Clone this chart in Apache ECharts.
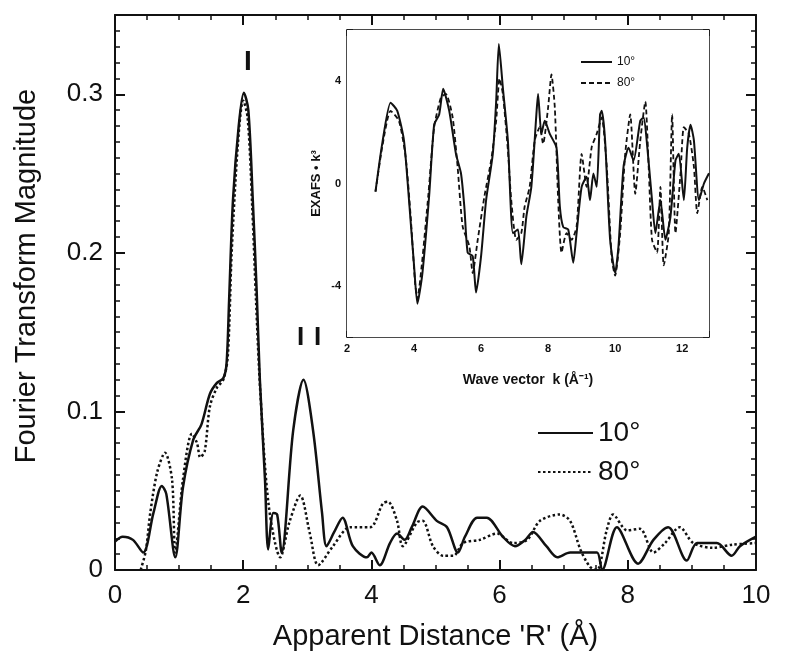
<!DOCTYPE html>
<html>
<head>
<meta charset="utf-8">
<script src="https://cdn.jsdelivr.net/npm/echarts@6/dist/echarts.min.js"></script>
<style>
  html, body { margin: 0; background: #fff; }
  #chart { width: 800px; height: 661px; }
</style>
</head>
<body>
<div id="chart"></div>
<script>
// Fourier transform magnitude vs apparent distance R (A), two polarisation angles
const ft10 = [
  [0,0.018],[0.12,0.021],[0.28,0.019],[0.44,0.011],[0.6,0.036],[0.73,0.053],[0.8,0.048],
  [0.94,0.008],[1.06,0.052],[1.22,0.082],[1.35,0.092],[1.48,0.111],[1.59,0.118],[1.69,0.121],
  [1.74,0.13],[1.78,0.17],[1.84,0.233],[1.93,0.28],[2.01,0.301],[2.08,0.29],[2.15,0.233],
  [2.21,0.176],[2.26,0.12],[2.34,0.057],[2.39,0.013],[2.47,0.036],[2.53,0.035],[2.6,0.011],
  [2.78,0.088],[2.94,0.12],[3.09,0.088],[3.23,0.036],[3.3,0.015],[3.42,0.024],[3.55,0.033],
  [3.71,0.015],[3.93,0.008],[4.0,0.011],[4.13,0.003],[4.29,0.017],[4.4,0.023],[4.52,0.019],
  [4.63,0.027],[4.8,0.04],[5.02,0.031],[5.18,0.027],[5.35,0.011],[5.46,0.021],[5.65,0.033],
  [5.8,0.033],[6.05,0.021],[6.24,0.015],[6.4,0.019],[6.52,0.024],[6.73,0.015],[6.9,0.008],
  [7.1,0.011],[7.36,0.011],[7.52,0.011],[7.6,0.0],[7.83,0.027],[8.16,0.004],[8.4,0.019],
  [8.63,0.027],[8.92,0.006],[9.08,0.017],[9.39,0.017],[9.62,0.009],[9.75,0.015],[10,0.021]
];
const ft80 = [
  [0.4,0.0],[0.48,0.012],[0.55,0.036],[0.66,0.062],[0.78,0.074],[0.89,0.057],[0.94,0.011],
  [1.06,0.057],[1.2,0.086],[1.28,0.08],[1.33,0.071],[1.4,0.075],[1.48,0.103],[1.59,0.115],
  [1.69,0.12],[1.76,0.135],[1.82,0.2],[1.92,0.27],[2.0,0.296],[2.07,0.285],[2.14,0.23],
  [2.2,0.17],[2.27,0.11],[2.4,0.04],[2.58,0.008],[2.72,0.03],[2.89,0.047],[3.04,0.023],
  [3.17,0.003],[3.4,0.015],[3.67,0.027],[3.98,0.027],[4.18,0.042],[4.26,0.043],[4.4,0.031],
  [4.49,0.015],[4.71,0.03],[4.8,0.031],[4.96,0.015],[5.12,0.009],[5.28,0.009],[5.43,0.017],
  [5.69,0.019],[5.96,0.023],[6.21,0.017],[6.43,0.019],[6.63,0.031],[6.94,0.035],[7.1,0.031],
  [7.26,0.013],[7.41,0.002],[7.52,0.0],[7.67,0.025],[7.77,0.035],[7.99,0.025],[8.19,0.026],
  [8.4,0.011],[8.58,0.017],[8.81,0.027],[9.02,0.017],[9.33,0.014],[9.64,0.016],[10,0.017]
];

// Inset: EXAFS * k^3 vs wave vector k
const exafs10 = [
  [2.85,-0.32],[3.05,1.55],[3.3,3.16],[3.5,2.84],[3.7,1.68],[3.85,-0.65],[4.0,-3.2],[4.1,-4.7],
  [4.25,-3.5],[4.45,-0.5],[4.6,2.3],[4.75,2.7],[4.87,3.7],[5.05,2.84],[5.25,1.16],[5.4,0.4],
  [5.5,-0.9],[5.6,-2.7],[5.75,-2.84],[5.85,-4.26],[6.0,-2.84],[6.15,-0.65],[6.35,1.16],[6.45,3.2],
  [6.53,5.45],[6.65,3.74],[6.8,1.68],[6.95,-1.94],[7.1,-1.8],[7.2,-3.16],[7.35,-1.3],[7.5,-0.13],
  [7.65,2.7],[7.7,3.5],[7.8,1.94],[7.9,2.45],[8.05,1.94],[8.25,1.4],[8.35,-0.9],[8.45,-1.7],
  [8.6,-1.8],[8.75,-3.1],[8.85,-1.94],[9.0,-0.13],[9.15,0.26],[9.25,-0.65],[9.35,0.39],[9.45,-0.13],
  [9.55,2.7],[9.6,2.84],[9.7,1.68],[9.85,-2.2],[10.0,-3.5],[10.1,-2.45],[10.25,0.65],[10.4,1.4],
  [10.55,0.9],[10.75,2.45],[10.85,2.58],[10.95,1.55],[11.1,-0.65],[11.2,-1.94],[11.35,-0.65],
  [11.5,-2.2],[11.65,-1.3],[11.8,0.9],[11.9,1.16],[12.05,-0.65],[12.15,1.4],[12.25,2.3],
  [12.35,1.68],[12.5,-0.65],[12.65,0],[12.8,0.4]
];
const exafs80 = [
  [2.85,-0.32],[3.05,1.42],[3.3,2.84],[3.55,2.45],[3.75,1.03],[3.9,-1.3],[4.03,-3.87],[4.1,-4.5],
  [4.23,-3.2],[4.43,-0.4],[4.6,2.2],[4.8,3.35],[4.95,3.5],[5.15,2.6],[5.3,0.65],[5.45,-1.68],
  [5.65,-2.45],[5.75,-3.5],[5.9,-2.2],[6.1,-0.5],[6.3,0.9],[6.45,2.45],[6.55,4.1],[6.65,3.5],
  [6.8,1.3],[6.9,-0.65],[7.05,-2.2],[7.2,-1.94],[7.3,-0.9],[7.45,-0.13],[7.6,1.68],[7.75,2.2],
  [7.85,1.55],[8.0,2.97],[8.1,4.26],[8.2,2.97],[8.3,-0.65],[8.4,-2.7],[8.55,-1.94],[8.7,-2.2],
  [8.85,-1.68],[9.0,1.16],[9.15,-0.13],[9.3,1.42],[9.45,1.94],[9.6,2.58],[9.75,0.65],[9.9,-2.97],
  [10.0,-3.6],[10.15,-1.94],[10.3,1.16],[10.45,2.7],[10.6,-0.4],[10.75,1.68],[10.9,3.2],[11.0,0.65],
  [11.1,-2.2],[11.25,-2.7],[11.35,-0.13],[11.45,-3.2],[11.6,-1.94],[11.7,2.7],[11.8,-1.94],
  [11.95,0.39],[12.05,2.2],[12.2,1.94],[12.35,0.65],[12.45,-1.16],[12.6,-0.13],[12.75,-0.65]
];

const FONT = '"Liberation Sans", Arial, Helvetica, sans-serif';
const BLACK = '#111';

const chart = echarts.init(document.getElementById('chart'), null, { renderer: 'canvas' });

// one boxed axis: visible labels on the main side, bare ticks on the mirror side
function axis(grid, o) {
  const mirror = !!o.mirror;
  return {
    type: 'value',
    gridIndex: grid,
    position: o.position,
    min: o.min, max: o.max, interval: o.interval,
    name: mirror ? '' : o.name,
    nameLocation: 'middle',
    nameGap: o.nameGap,
    nameTextStyle: Object.assign({ color: BLACK, fontFamily: FONT }, o.nameStyle || {}),
    axisLine: { show: true, onZero: false, lineStyle: { color: BLACK, width: o.lw } },
    axisTick: { show: true, inside: true, length: o.tick, lineStyle: { color: BLACK, width: o.lw } },
    minorTick: { show: true, splitNumber: o.minor, length: o.tick / 2, lineStyle: { color: BLACK, width: o.lw * 0.75 } },
    splitLine: { show: false },
    axisLabel: {
      show: !mirror,
      color: BLACK,
      fontFamily: FONT,
      fontSize: o.fontSize,
      fontWeight: o.fontWeight || 'normal',
      margin: o.margin,
      formatter: o.formatter
    }
  };
}

const onStep = (step, lim) => v => (Math.abs(v / step - Math.round(v / step)) < 1e-6 && Math.abs(v) <= lim ? String(+v.toFixed(2)) : '');

const mainX = { min: 0, max: 10, interval: 2, lw: 2, tick: 10, minor: 4, fontSize: 26, margin: 13,
  name: "Apparent Distance 'R' (Å)", nameGap: 52, nameStyle: { fontSize: 29 }, formatter: onStep(2, 10) };
const mainY = { min: 0, max: 0.35, interval: 0.1, lw: 2, tick: 10, minor: 10, fontSize: 26, margin: 12,
  name: 'Fourier Transform Magnitude', nameGap: 74, nameStyle: { fontSize: 29, padding: [0, 0, 0, 33] },
  formatter: onStep(0.1, 0.3) };
const insX = { min: 2, max: 12.8, interval: 2, lw: 1.5, tick: 6, minor: 4, fontSize: 11, fontWeight: 'bold', margin: 6,
  name: 'Wave vector  k (Å⁻¹)', nameGap: 36, nameStyle: { fontSize: 14, fontWeight: 'bold' }, formatter: onStep(2, 12) };
const insY = { min: -6, max: 6, interval: 2, lw: 1.5, tick: 6, minor: 4, fontSize: 11, fontWeight: 'bold', margin: 6,
  name: 'EXAFS • k³', nameGap: 24, nameStyle: { fontSize: 13, fontWeight: 'bold' }, formatter: onStep(4, 4) };

const legendBase = { orient: 'vertical', selectedMode: false, z: 20, itemStyle: { opacity: 0 } };

chart.setOption({
  animation: false,
  backgroundColor: '#fff',
  color: [BLACK],
  grid: [
    { left: 115, right: 44, top: 15, bottom: 91 },
    { left: 347, right: 91, top: 30, bottom: 324, show: true, backgroundColor: '#fff', borderWidth: 0, z: 5 }
  ],
  xAxis: [
    axis(0, Object.assign({ position: 'bottom' }, mainX)),
    axis(0, Object.assign({ position: 'top', mirror: true }, mainX)),
    axis(1, Object.assign({ position: 'bottom' }, insX)),
    axis(1, Object.assign({ position: 'top', mirror: true }, insX))
  ],
  yAxis: [
    axis(0, Object.assign({ position: 'left' }, mainY)),
    axis(0, Object.assign({ position: 'right', mirror: true }, mainY)),
    axis(1, Object.assign({ position: 'left' }, insY)),
    axis(1, Object.assign({ position: 'right', mirror: true }, insY))
  ],
  legend: [
    Object.assign({
      data: ['10°', '80°'], left: 532, top: 414,
      itemWidth: 55, itemHeight: 14, itemGap: 11,
      textStyle: { fontSize: 28, lineHeight: 28, color: BLACK, fontFamily: FONT }
    }, legendBase),
    Object.assign({
      data: ['10° ', '80° '], left: 575, top: 51,
      itemWidth: 31, itemHeight: 8, itemGap: 9,
      textStyle: { fontSize: 12, lineHeight: 12, color: BLACK, fontFamily: FONT }
    }, legendBase)
  ],
  series: [
    { name: '10°', type: 'line', xAxisIndex: 0, yAxisIndex: 0, data: ft10, symbol: 'none', smooth: 0.3,
      itemStyle: { color: BLACK }, lineStyle: { color: BLACK, width: 2.5 } },
    { name: '80°', type: 'line', xAxisIndex: 0, yAxisIndex: 0, data: ft80, symbol: 'none', smooth: 0.3,
      itemStyle: { color: BLACK }, lineStyle: { color: BLACK, width: 2.5, type: [2.5, 2.5] } },
    { name: '10° ', type: 'line', xAxisIndex: 2, yAxisIndex: 2, data: exafs10, symbol: 'none', smooth: 0.2, z: 6,
      itemStyle: { color: BLACK }, lineStyle: { color: BLACK, width: 2 } },
    { name: '80° ', type: 'line', xAxisIndex: 2, yAxisIndex: 2, data: exafs80, symbol: 'none', smooth: 0.2, z: 6,
      itemStyle: { color: BLACK }, lineStyle: { color: BLACK, width: 1.8, type: [5, 3] } }
  ],
  graphic: [
    { type: 'text', left: 244, top: 48, style: { text: 'I', font: 'bold 28px ' + FONT, fill: BLACK } },
    { type: 'text', left: 297, top: 325, style: { text: 'I', font: 'bold 26px ' + FONT, fill: BLACK } },
    { type: 'text', left: 314, top: 325, style: { text: 'I', font: 'bold 26px ' + FONT, fill: BLACK } }
  ]
});
</script>
</body>
</html>
